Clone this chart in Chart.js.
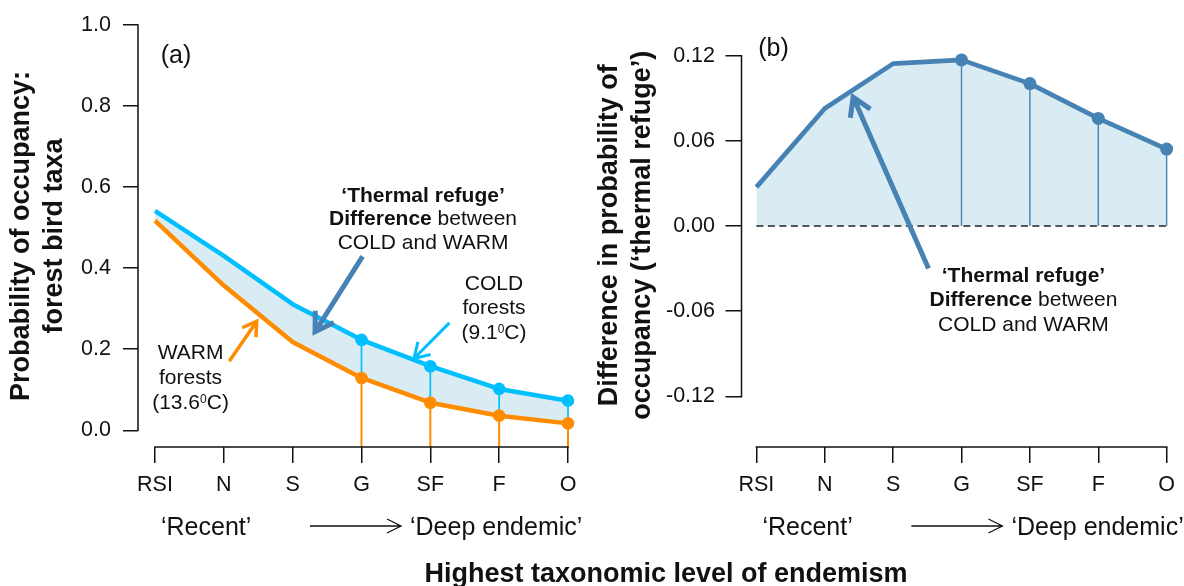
<!DOCTYPE html>
<html>
<head>
<meta charset="utf-8">
<script src="https://cdn.jsdelivr.net/npm/chart.js@4.4.0/dist/chart.umd.min.js"></script>
<style>
  html, body { margin: 0; padding: 0; background: #fff; }
  #wrap { position: relative; width: 1184px; height: 586px; overflow: hidden; }
  #wrap canvas { position: absolute; top: 0; }
  #chartA { left: 0; }
  #chartB { left: 592px; }
  #xTitle {
    position: absolute; left: 666px; top: 557px; transform: translateX(-50%);
    white-space: nowrap; color: #111;
    font: bold 27px/33px 'Liberation Sans', Arial, sans-serif;
  }
</style>
</head>
<body>
<div id="wrap">
  <canvas id="chartA" width="592" height="586"></canvas>
  <canvas id="chartB" width="592" height="586"></canvas>
  <div id="xTitle">Highest taxonomic level of endemism</div>
</div>
<script>
// endemism levels, from 'recent' to 'deep endemic'
const categories = ['RSI', 'N', 'S', 'G', 'SF', 'F', 'O'];

// panel (a): probability of occupancy
const coldForests = [0.541, 0.430, 0.311, 0.223, 0.158, 0.102, 0.073];
const warmForests = [0.517, 0.357, 0.218, 0.129, 0.068, 0.036, 0.017];

// panel (b): difference COLD - WARM
const thermalRefuge = [0.0274, 0.0828, 0.1144, 0.117, 0.1003, 0.0758, 0.0542];

const occupancyTicks = [0, 0.2, 0.4, 0.6, 0.8, 1.0];
const refugeTicks = [-0.12, -0.06, 0, 0.06, 0.12];

// markers + drop lines only from G onwards
const FIRST_MARKED = 3;

const FONT = "'Liberation Sans', Arial, sans-serif";
const INK = '#111';
const COLD = '#00BFFF';
const WARM = '#FF8C00';
const STEEL = '#4682B4';
const FILL = '#DAECF3';

Chart.defaults.font.family = FONT;
Chart.defaults.color = INK;

const xy = vals => vals.map((v, i) => ({ x: i, y: v }));

function categoryAxis(min) {
    return {
        type: 'linear', bounds: 'data', min: min, max: categories.length - 1,
        afterBuildTicks: s => { s.ticks = categories.map((_, i) => ({ value: i })); },
        afterFit: s => { s.height = 139; },
        ticks: { autoSkip: false, maxRotation: 0, padding: 9, font: { size: 21.5 }, callback: v => categories[v] },
        grid: { drawOnChartArea: false, tickLength: 16, color: INK, lineWidth: 1.5 },
        border: { display: false }
    };
}

function valueAxis(min, max, tickVals, digits, width, title, titlePad, tickLen, labelPad) {
    return {
        type: 'linear', bounds: 'data', min: min, max: max,
        afterBuildTicks: s => { s.ticks = tickVals.map(v => ({ value: v })); },
        afterFit: s => { s.width = width; },
        ticks: { padding: labelPad, font: { size: 21.5 }, callback: v => v.toFixed(digits) },
        grid: { drawOnChartArea: false, tickLength: tickLen, color: INK, lineWidth: 1.5 },
        border: { display: false },
        title: {
            display: true, text: title, color: INK,
            font: { size: 27, weight: 'bold', lineHeight: 33 / 27 },
            padding: { top: titlePad, bottom: 0 }
        }
    };
}

function arrow(ctx, from, to, color, width, head) {
    const [x1, y1] = from, [x2, y2] = to;
    const a = Math.atan2(y1 - y2, x1 - x2);
    ctx.save();
    ctx.strokeStyle = color;
    ctx.lineWidth = width;
    ctx.lineJoin = 'miter';
    ctx.beginPath();
    ctx.moveTo(x1, y1);
    ctx.lineTo(x2, y2);
    ctx.moveTo(x2 + head * Math.cos(a + 0.55), y2 + head * Math.sin(a + 0.55));
    ctx.lineTo(x2, y2);
    ctx.lineTo(x2 + head * Math.cos(a - 0.55), y2 + head * Math.sin(a - 0.55));
    ctx.stroke();
    ctx.restore();
}

// one centred line made of runs: plain string, or {t, bold, sup}
function drawRuns(ctx, line, cx, cy, size) {
    const runs = typeof line === 'string' ? [{ t: line }] : line;
    const fontOf = r => `${r.bold ? 'bold ' : ''}${r.sup ? Math.round(size * 0.58) : size}px ${FONT}`;
    let total = 0;
    runs.forEach(r => { ctx.font = fontOf(r); total += ctx.measureText(r.t).width; });
    let px = cx - total / 2;
    ctx.fillStyle = INK;
    ctx.textAlign = 'left';
    ctx.textBaseline = 'middle';
    runs.forEach(r => {
        ctx.font = fontOf(r);
        ctx.fillText(r.t, px, cy - (r.sup ? size * 0.16 : 0));
        px += ctx.measureText(r.t).width;
    });
}

function textBlock(ctx, pos, gap, lines, size) {
    lines.forEach((line, i) => drawRuns(ctx, line, pos[0], pos[1] + i * gap, size));
}

const refugeLines = [
    [{ t: '‘Thermal refuge’', bold: true }],
    [{ t: 'Difference', bold: true }, { t: ' between' }],
    'COLD and WARM'
];

// R-style axes: lines only between first and last tick, plus the 'Recent -> Deep endemic' note
const rAxes = {
    id: 'rAxes',
    afterDraw(chart) {
        const { ctx, chartArea, scales: { x, y } } = chart;
        const yt = y.ticks, xt = x.ticks;
        ctx.save();
        ctx.strokeStyle = INK;
        ctx.lineWidth = 1.5;
        ctx.lineCap = 'square';
        ctx.beginPath();
        ctx.moveTo(chartArea.left, y.getPixelForValue(yt[0].value));
        ctx.lineTo(chartArea.left, y.getPixelForValue(yt[yt.length - 1].value));
        ctx.moveTo(x.getPixelForValue(xt[0].value), chartArea.bottom);
        ctx.lineTo(x.getPixelForValue(xt[xt.length - 1].value), chartArea.bottom);
        ctx.stroke();

        const x0 = x.getPixelForValue(0);
        const ty = chartArea.bottom + 81;
        ctx.font = `25px ${FONT}`;
        ctx.fillStyle = INK;
        ctx.textAlign = 'left';
        ctx.textBaseline = 'middle';
        ctx.fillText('‘Recent’', x0 + 6, ty);
        ctx.fillText('‘Deep endemic’', x0 + 255, ty);
        ctx.lineCap = 'butt';
        ctx.lineWidth = 1.3;
        ctx.beginPath();
        ctx.moveTo(x0 + 155, ty - 2);
        ctx.lineTo(x0 + 246, ty - 2);
        ctx.moveTo(x0 + 232, ty - 9);
        ctx.lineTo(x0 + 246, ty - 2);
        ctx.lineTo(x0 + 232, ty + 5);
        ctx.stroke();
        ctx.restore();
    }
};

const panelANotes = {
    id: 'panelANotes',
    beforeDatasetsDraw(chart) {
        const { ctx, chartArea, scales: { x, y } } = chart;
        ctx.save();
        for (let i = FIRST_MARKED; i < categories.length; i++) {
            const px = x.getPixelForValue(i);
            const yCold = y.getPixelForValue(coldForests[i]);
            const yWarm = y.getPixelForValue(warmForests[i]);
            ctx.strokeStyle = COLD;
            ctx.lineWidth = 1.7;
            ctx.beginPath();
            ctx.moveTo(px, yCold);
            ctx.lineTo(px, yWarm);
            ctx.stroke();
            ctx.strokeStyle = WARM;
            ctx.lineWidth = 2;
            ctx.beginPath();
            ctx.moveTo(px, yWarm);
            ctx.lineTo(px, chartArea.bottom);
            ctx.stroke();
        }
        ctx.restore();
    },
    afterDatasetsDraw(chart) {
        const { ctx, scales: { x, y } } = chart;
        const P = (a, b) => [x.getPixelForValue(a), y.getPixelForValue(b)];
        arrow(ctx, P(3.016, 0.429), P(2.325, 0.243), STEEL, 5, 21);
        arrow(ctx, P(4.276, 0.265), P(3.763, 0.177), COLD, 3, 17);
        arrow(ctx, P(1.079, 0.170), P(1.478, 0.269), WARM, 3.5, 16);
        textBlock(ctx, P(3.894, 0.578), 23.5, refugeLines, 21);
        textBlock(ctx, P(4.925, 0.360), 24.2, ['COLD', 'forests', [{ t: '(9.1' }, { t: '0', sup: true }, { t: 'C)' }]], 21);
        textBlock(ctx, P(0.516, 0.190), 25, ['WARM', 'forests', [{ t: '(13.6' }, { t: '0', sup: true }, { t: 'C)' }]], 21);
        textBlock(ctx, P(0.305, 0.922), 0, ['(a)'], 25);
    }
};

const panelBNotes = {
    id: 'panelBNotes',
    beforeDatasetsDraw(chart) {
        const { ctx, scales: { x, y } } = chart;
        const zero = y.getPixelForValue(0);
        ctx.save();
        ctx.strokeStyle = '#222';
        ctx.lineWidth = 1.5;
        ctx.setLineDash([7, 4.5]);
        ctx.beginPath();
        ctx.moveTo(x.getPixelForValue(0), zero);
        ctx.lineTo(x.getPixelForValue(categories.length - 1), zero);
        ctx.stroke();
        ctx.setLineDash([]);
        ctx.strokeStyle = STEEL;
        ctx.lineWidth = 1.4;
        ctx.beginPath();
        for (let i = FIRST_MARKED; i < thermalRefuge.length; i++) {
            const px = x.getPixelForValue(i);
            ctx.moveTo(px, y.getPixelForValue(thermalRefuge[i]));
            ctx.lineTo(px, zero);
        }
        ctx.stroke();
        ctx.restore();
    },
    afterDatasetsDraw(chart) {
        const { ctx, scales: { x, y } } = chart;
        const P = (a, b) => [x.getPixelForValue(a), y.getPixelForValue(b)];
        arrow(ctx, P(2.517, -0.0299), P(1.415, 0.0908), STEEL, 5, 21);
        textBlock(ctx, P(3.906, -0.0355), 24.2, refugeLines, 21);
        textBlock(ctx, P(0.251, 0.1249), 0, ['(b)'], 25);
    }
};

const markerRadius = r => c => (c.dataIndex >= FIRST_MARKED ? r : 0);

const commonOptions = {
    responsive: false,
    animation: false,
    events: [],
    plugins: {
        legend: { display: false },
        tooltip: { enabled: false },
        filler: { drawTime: 'beforeDatasetsDraw' }
    }
};

new Chart(document.getElementById('chartA'), {
    type: 'line',
    data: {
        datasets: [
            {
                data: xy(coldForests), borderColor: COLD, backgroundColor: FILL, fill: '+1',
                borderWidth: 4.5, tension: 0, borderJoinStyle: 'round', clip: false,
                pointRadius: markerRadius(6.3), pointBackgroundColor: COLD, pointBorderWidth: 0
            },
            {
                data: xy(warmForests), borderColor: WARM, fill: false,
                borderWidth: 4.5, tension: 0, borderJoinStyle: 'round', clip: false,
                pointRadius: markerRadius(6.3), pointBackgroundColor: WARM, pointBorderWidth: 0
            }
        ]
    },
    options: {
        ...commonOptions,
        layout: { padding: { left: 0, right: 24, top: 18, bottom: 0 } },
        scales: {
            x: categoryAxis(-0.247),
            y: valueAxis(-0.0413, 1.0, occupancyTicks, 1, 138,
                ['Probability of occupancy:', 'forest bird taxa'], 5.5, 15, 12)
        }
    },
    plugins: [panelANotes, rAxes]
});

new Chart(document.getElementById('chartB'), {
    type: 'line',
    data: {
        datasets: [
            {
                data: xy(thermalRefuge), borderColor: STEEL, backgroundColor: FILL, fill: 'origin',
                borderWidth: 4.7, tension: 0, borderJoinStyle: 'round', clip: false,
                pointRadius: markerRadius(6.5), pointBackgroundColor: STEEL, pointBorderWidth: 0
            }
        ]
    },
    options: {
        ...commonOptions,
        layout: { padding: { left: 0, right: 14, top: 20, bottom: 0 } },
        scales: {
            x: categoryAxis(-0.2177),
            y: valueAxis(-0.15564, 0.14271, refugeTicks, 2, 149.5,
                ['Difference in probability of', 'occupancy (‘thermal refuge’)'], 1.5, 16, 10.5)
        }
    },
    plugins: [panelBNotes, rAxes]
});
</script>
</body>
</html>
